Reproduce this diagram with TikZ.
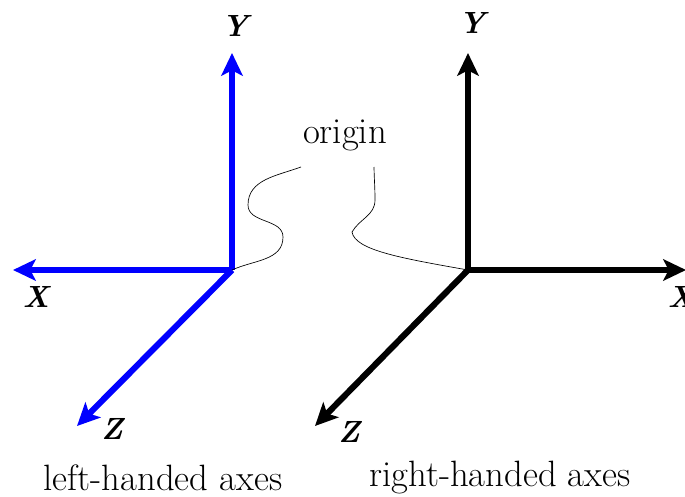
\documentclass[tikz,border=0pt]{standalone}
\usepackage{xcolor}
\usepackage{tikz}
\usetikzlibrary{arrows.meta}

\begin{document}
\begin{tikzpicture}[
  x=0.75pt, y=-0.75pt,
  axis/.style={line width=4.6pt, -{Stealth[length=17pt, width=16pt, inset=4pt]}},
  lbl/.style={font=\fontsize{23}{26}\selectfont\bfseries\itshape, inner sep=0pt},
  caption/.style={font=\fontsize{27.5}{32}\selectfont, inner sep=0pt},
  lead/.style={line width=0.5pt}
]
\useasboundingbox (0,0) rectangle (685,496);
% left-handed set
\coordinate (lo) at (232,270);
\coordinate (ly) at (232,53);
\coordinate (lx) at (13,270);
\coordinate (lz) at (77,426);
\draw[axis, blue] (lo) -- (ly);
\draw[axis, blue] (lo) -- (lx);
\draw[axis, blue] (lo) -- (lz);
\node[lbl] (lyl) at (235,26) {Y};
\node[lbl] (lxl) at (36,297) {X};
\node[lbl] (lzl) at (112,429) {Z};
% right-handed set
\coordinate (ro) at (468,270);
\coordinate (ry) at (468,53);
\coordinate (rx) at (686,270);
\coordinate (rz) at (315,426);
\draw[axis] (ro) -- (ry);
\draw[axis] (ro) -- (rx);
\draw[axis] (ro) -- (rz);
\node[lbl] (ryl) at (472,23) {Y};
\node[lbl] (rxl) at (681,297) {X};
\node[lbl] (rzl) at (349,432) {Z};
% origin label and leaders
\node[caption] (orig) at (345,135) {origin};
\coordinate (ls) at (301,167);
\coordinate (rs) at (374,167);
\draw[lead] (ls) to[out=200,in=90] (248,205) to[out=-90,in=90] (283,237) to[out=-90,in=25] (lo);
\draw[lead] (rs) to[out=-89,in=90] (375,200) to[out=-90,in=60] (352,232)
  .. controls (355,250) and (400,258) .. (ro);
% captions
\node[caption] (lcap) at (163,478) {left-handed axes};
\node[caption] (rcap) at (500,478) {right-handed axes};
\end{tikzpicture}
\end{document}
